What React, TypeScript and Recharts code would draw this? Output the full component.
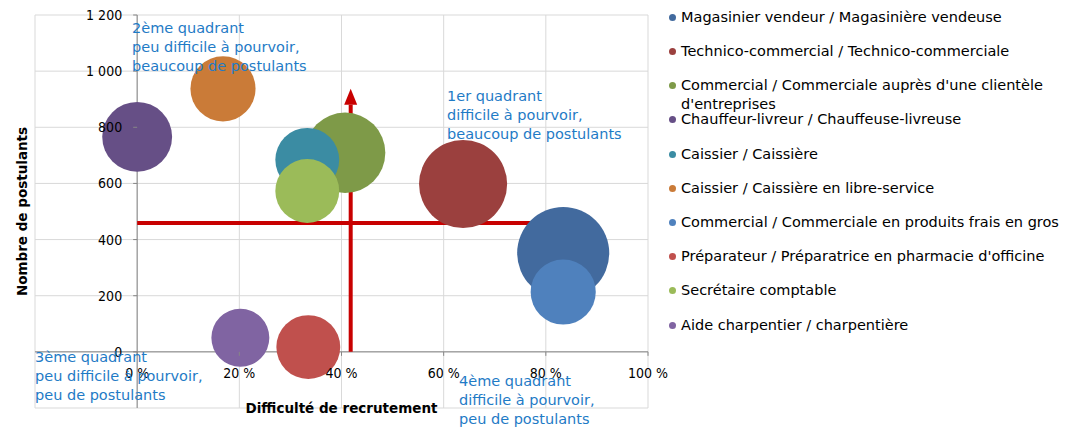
import React from "react";
import { ScatterChart, Scatter, XAxis, YAxis, ZAxis, CartesianGrid } from "recharts";

const jobs = [
  "Magasinier vendeur / Magasinière vendeuse",
  "Technico-commercial / Technico-commerciale",
  "Commercial / Commerciale auprès d'une clientèle d'entreprises",
  "Chauffeur-livreur / Chauffeuse-livreuse",
  "Caissier / Caissière",
  "Caissier / Caissière en libre-service",
  "Commercial / Commerciale en produits frais en gros",
  "Préparateur / Préparatrice en pharmacie d'officine",
  "Secrétaire comptable",
  "Aide charpentier / charpentière",
];

// difficulté de recrutement (part), nombre de postulants, taille de bulle
const difficulty = [0.834, 0.638, 0.407, 0.0, 0.333, 0.168, 0.834, 0.335, 0.333, 0.202];
const applicants = [352, 598, 709, 766, 684, 937, 213, 17, 573, 50];
const bubbleSize = [212, 194, 162, 122, 102, 106, 106, 102, 102, 84];

const colors = [
  "#426A9E",
  "#9B403E",
  "#7E9A48",
  "#664F86",
  "#3B8CA3",
  "#CA7B38",
  "#4F81BD",
  "#C0504D",
  "#9BBB59",
  "#8064A2",
];

const xTicks = [-0.2, 0, 0.2, 0.4, 0.6, 0.8, 1];
const yTicks = [-200, 0, 200, 400, 600, 800, 1000, 1200];

// moyennes (flèches rouges)
const avgDifficulty = 0.418;
const avgApplicants = 459;
const arrowTopApplicants = 937;
const lineRightDifficulty = 0.8;

const hLine = [
  { x: 0, y: avgApplicants },
  { x: lineRightDifficulty, y: avgApplicants },
];
const vArrow = [
  { x: avgDifficulty, y: 0 },
  { x: avgDifficulty, y: arrowTopApplicants },
];
const xAxisLine = [
  { x: -0.2, y: 0 },
  { x: 1, y: 0 },
];
const yAxisLine = [
  { x: 0, y: -200 },
  { x: 0, y: 1200 },
];

const quadrants = [
  { lines: ["2ème quadrant", "peu difficile à pourvoir,", "beaucoup de postulants"], x: 132, y: 28 },
  { lines: ["1er quadrant", "difficile à pourvoir,", "beaucoup de postulants"], x: 447, y: 96 },
  { lines: ["3ème quadrant", "peu difficile à pourvoir,", "peu de postulants"], x: 35, y: 357 },
  { lines: ["4ème quadrant", "difficile à pourvoir,", "peu de postulants"], x: 459, y: 381 },
];

const FONT = "'DejaVu Sans', sans-serif";
const TICK_FONT = "'DejaVu Sans Condensed', 'DejaVu Sans', sans-serif";
const W = 1082;
const H = 427;
const CHART_W = 690;
const MARGIN = { top: 15, right: 42, bottom: 18, left: 34 };
const X_MIN = -0.2, X_MAX = 1, Y_MIN = -200, Y_MAX = 1200;
const PLOT_LEFT = MARGIN.left + 1;
const PLOT_W = CHART_W - PLOT_LEFT - MARGIN.right;
const PLOT_H = H - MARGIN.top - MARGIN.bottom - 1;
const X0 = PLOT_LEFT + (PLOT_W * (0 - X_MIN)) / (X_MAX - X_MIN);
const Y0 = MARGIN.top + (PLOT_H * (Y_MAX - 0)) / (Y_MAX - Y_MIN);
const RED = "#C80000";
const AXIS = "#868686";
const QUAD_BLUE = "#1F7BC6";

const fmtY = (v: number) =>
  v >= 1000 ? `${Math.floor(v / 1000)} ${String(v % 1000).padStart(3, "0")}` : String(v);

const XTick = ({ x, payload }: any) => {
  if (payload.value < 0) return <g />;
  return (
    <g>
      <line x1={x} x2={x} y1={Y0} y2={Y0 + 4} stroke={AXIS} />
      <text x={x} y={Y0 + 26} textAnchor="middle" fontSize={14} fill="#000" fontFamily={TICK_FONT}>
        {Math.round(payload.value * 100)} %
      </text>
    </g>
  );
};

const YTick = ({ y, payload }: any) => {
  if (payload.value < 0) return <g />;
  return (
    <g>
      <line x1={X0 - 4} x2={X0} y1={y} y2={y} stroke={AXIS} />
      <text x={X0 - 15} y={y + 5} textAnchor="end" fontSize={14} fill="#000" fontFamily={TICK_FONT}>
        {fmtY(payload.value)}
      </text>
    </g>
  );
};

// ligne rouge tracée à partir des points de la série (via l'échelle du graphique)
const redLine = (withHead: boolean) => (props: any) => {
  const pts = props.points || [];
  if (pts.length < 2) return <g />;
  const { x: x1, y: y1 } = pts[0];
  const { x: x2, y: y2 } = pts[pts.length - 1];
  if (!withHead) {
    return <line x1={x1} y1={y1} x2={x2} y2={y2} stroke={RED} strokeWidth={4} />;
  }
  const dx = x2 - x1;
  const dy = y2 - y1;
  const len = Math.hypot(dx, dy) || 1;
  const ux = dx / len;
  const uy = dy / len;
  const head = 16;
  const half = 6.5;
  const bx = x2 - ux * head;
  const by = y2 - uy * head;
  return (
    <g>
      <line x1={x1} y1={y1} x2={bx} y2={by} stroke={RED} strokeWidth={4} />
      <polygon
        points={`${x2},${y2} ${bx - uy * half},${by + ux * half} ${bx + uy * half},${by - ux * half}`}
        fill={RED}
      />
    </g>
  );
};

const noPoint = () => <g />;

export default function App() {
  return (
    <div style={{ position: "absolute", left: 0, top: 0, width: W, height: H, background: "#fff", fontFamily: FONT }}>
      <ScatterChart width={CHART_W} height={H} margin={MARGIN}>
        <CartesianGrid stroke="#D9D9D9" />
        <XAxis
          type="number"
          dataKey="x"
          domain={[X_MIN, X_MAX]}
          ticks={xTicks}
          interval={0}
          height={1}
          axisLine={false}
          tickLine={false}
          tick={(p: any) => <XTick {...p} />}
          allowDataOverflow
        />
        <YAxis
          type="number"
          dataKey="y"
          domain={[Y_MIN, Y_MAX]}
          ticks={yTicks}
          interval={0}
          width={1}
          axisLine={false}
          tickLine={false}
          tick={(p: any) => <YTick {...p} />}
          allowDataOverflow
        />
        <ZAxis type="number" dataKey="z" domain={[0, 250]} range={[0, 7854]} />
        <Scatter data={xAxisLine} line={{ stroke: AXIS, strokeWidth: 1 }} shape={noPoint} isAnimationActive={false} />
        <Scatter data={yAxisLine} line={{ stroke: AXIS, strokeWidth: 1 }} shape={noPoint} isAnimationActive={false} />
        <Scatter data={hLine} line={redLine(false)} shape={noPoint} isAnimationActive={false} />
        <Scatter data={vArrow} line={redLine(true)} shape={noPoint} isAnimationActive={false} />
        {jobs.map((name, i) => (
          <Scatter
            key={name}
            name={name}
            data={[{ x: difficulty[i], y: applicants[i], z: bubbleSize[i] }]}
            fill={colors[i]}
            isAnimationActive={false}
          />
        ))}
      </ScatterChart>

      <svg width={W} height={H} style={{ position: "absolute", left: 0, top: 0, pointerEvents: "none" }}>
        {quadrants.map((q) => (
          <text key={q.lines[0]} x={q.x} y={q.y + 5} fontSize={14.5} fill={QUAD_BLUE} fontFamily={FONT}>
            {q.lines.map((l, j) => (
              <tspan key={j} x={q.x} y={q.y + 5 + j * 19}>
                {l}
              </tspan>
            ))}
          </text>
        ))}
        <text
          x={PLOT_LEFT + PLOT_W / 2}
          y={MARGIN.top + PLOT_H + 5}
          textAnchor="middle"
          fontSize={13.5}
          fontWeight="bold"
          fill="#000"
          fontFamily={FONT}
        >
          Difficulté de recrutement
        </text>
        <text
          transform={`translate(27, ${MARGIN.top + PLOT_H / 2}) rotate(-90)`}
          textAnchor="middle"
          fontSize={13.5}
          fontWeight="bold"
          fill="#000"
          fontFamily={FONT}
        >
          Nombre de postulants
        </text>
      </svg>

      {jobs.map((name, i) => (
        <div
          key={name}
          style={{
            position: "absolute",
            left: 669,
            top: 17.3 + i * 34.2 - 9.5,
            width: 412,
            display: "flex",
            alignItems: "flex-start",
            fontSize: 14.5,
            lineHeight: "19px",
            color: "#000",
          }}
        >
          <span
            style={{
              width: 7,
              height: 7,
              borderRadius: "50%",
              background: colors[i],
              marginTop: 6,
              marginRight: 5,
              flex: "none",
            }}
          />
          <span>{name}</span>
        </div>
      ))}
    </div>
  );
}
